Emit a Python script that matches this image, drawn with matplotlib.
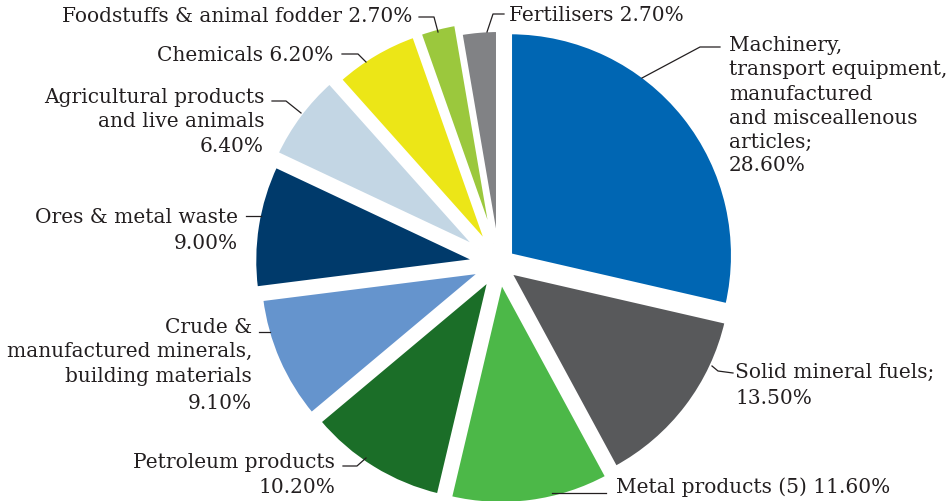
import matplotlib
matplotlib.use("Agg")
import matplotlib.pyplot as plt

categories = ["Machinery, transport equipment, manufactured and misceallenous articles",
              "Solid mineral fuels", "Metal products (5)", "Petroleum products",
              "Crude & manufactured minerals, building materials", "Ores & metal waste",
              "Agricultural products and live animals", "Chemicals",
              "Foodstuffs & animal fodder", "Fertilisers"]
values = [28.6, 13.5, 11.6, 10.2, 9.1, 9.0, 6.4, 6.2, 2.7, 2.7]
colors = ["#0066B3", "#58595B", "#4CB848", "#1B6E28", "#6594CD",
          "#003A6B", "#C3D6E4", "#ECE617", "#9BC83D", "#818285"]

label_names = [
    "Machinery,\ntransport equipment,\nmanufactured\nand misceallenous\narticles;",
    "Solid mineral fuels;",
    "Metal products (5)",
    "Petroleum products",
    "Crude &\nmanufactured minerals,\nbuilding materials",
    "Ores & metal waste",
    "Agricultural products\nand live animals",
    "Chemicals",
    "Foodstuffs & animal fodder",
    "Fertilisers",
]
pct_labels = ["28.60%", "13.50%", "11.60%", "10.20%", "9.10%",
              "9.00%", "6.40%", "6.20%", "2.70%", "2.70%"]

# slice offsets from the pie centre, in pixels (styling; pie explode is in data units)
explode_px = [14, 13, 17, 17, 18, 22, 26, 21, 21, 11]

W, H = 951, 501
fig = plt.figure(figsize=(W / 100, H / 100), dpi=100)
ax = fig.add_axes([0, 0, 1, 1])

edge_pt = 3.0
edge_px = edge_pt * 100 / 72
cx, cy = 499, H - 264
r = 221 + edge_px / 2
ax.pie(values, colors=colors, startangle=90, counterclock=False,
       center=(cx, cy), radius=r, frame=True,
       explode=explode_px,
       wedgeprops=dict(edgecolor="white", linewidth=edge_pt))
ax.set_xlim(0, W)
ax.set_ylim(0, H)
ax.set_aspect("equal")
ax.axis("off")

txtc = "#231F20"
font = dict(family="DejaVu Serif", fontsize=14.5, color=txtc, linespacing=1.35)
LINE = 24

# (x, top y, ha, pct mode, pct extra gap, leader points) — pixel coords, y from top
placements = [
    (729, 36, "left", "newline", 0, [(720, 47), (700, 47), (642, 78)]),
    (735, 363, "left", "newline", 2, [(733, 373), (718, 371), (712, 366)]),
    (616, 477, "left", "inline", 0, [(606, 493), (552, 493)]),
    (335, 453, "right", "newline", 1, [(343, 466), (357, 466), (366, 458)]),
    (252, 318, "right", "newline", 4, [(259, 332), (270, 332)]),
    (238, 208, "right", "newline", 2, [(246, 216), (261, 216)]),
    (264, 88, "right", "newline", 1, [(272, 101), (286, 101), (301, 113)]),
    (333, 46, "right", "inline", 0, [(342, 54), (358, 54), (366, 62)]),
    (412, 7, "right", "inline", 0, [(419, 17), (434, 17), (438, 32)]),
    (509, 6, "left", "inline", 0, [(504, 14), (493, 14), (487, 32)]),
]

for name, pct, (x, y, ha, mode, gap, pts) in zip(label_names, pct_labels, placements):
    if mode == "inline":
        ax.text(x, H - y, name + " " + pct, ha=ha, va="top", **font)
    else:
        ax.text(x, H - y, name, ha=ha, va="top", **font)
        nlines = name.count("\n") + 1
        ax.text(x, H - (y + nlines * LINE + gap), pct, ha=ha, va="top", **font)
    xs = [p[0] for p in pts]
    ys = [H - p[1] for p in pts]
    ax.plot(xs, ys, color=txtc, lw=0.9)

fig.savefig("out.png", dpi=100)
